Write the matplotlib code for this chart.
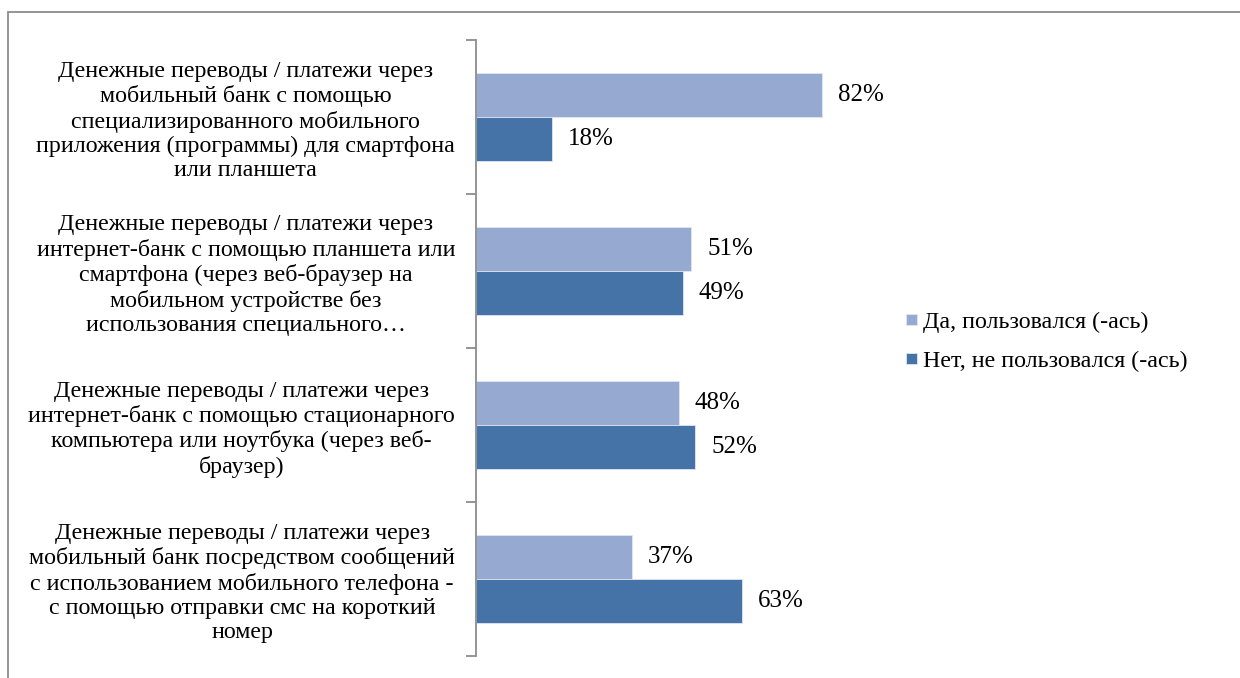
import numpy as np
import matplotlib
matplotlib.use('Agg')
import matplotlib.pyplot as plt
from matplotlib.patches import Rectangle

plt.rcParams['font.family'] = ['Liberation Serif', 'DejaVu Serif']

# Данные
categories = [
    'Денежные переводы / платежи через\nмобильный банк с помощью\nспециализированного мобильного\nприложения (программы) для смартфона\nили планшета',
    'Денежные переводы / платежи через\nинтернет-банк с помощью планшета или\nсмартфона (через веб-браузер на\nмобильном устройстве без\nиспользования специального…',
    'Денежные переводы / платежи через\nинтернет-банк с помощью стационарного\nкомпьютера или ноутбука (через веб-\nбраузер)',
    'Денежные переводы / платежи через\nмобильный банк посредством сообщений\nс использованием мобильного телефона -\nс помощью отправки смс на короткий\nномер',
]
yes_vals = [82, 51, 48, 37]
no_vals = [18, 49, 52, 63]
series_names = ['Да, пользовался (-ась)', 'Нет, не пользовался (-ась)']

c_yes = '#95A9D1'
c_no = '#4573A8'

W, H = 1240, 678
fig = plt.figure(figsize=(W / 100, H / 100), dpi=100)

# рамка вокруг диаграммы
fig.patches.append(Rectangle((8 / W, -0.1), 1.2, 1 - 12 / H + 0.1, transform=fig.transFigure,
                             fill=False, edgecolor='#8c8c8c', linewidth=1.3))

ax = fig.add_axes([476 / W, 1 - 656 / H, 422 / W, (656 - 40) / H])

y = np.arange(len(categories))
h = 0.286
b1 = ax.barh(y - h / 2, yes_vals, height=h, color=c_yes, edgecolor='#dfe6f2', linewidth=0.6,
             label=series_names[0])
b2 = ax.barh(y + h / 2, no_vals, height=h, color=c_no, edgecolor='#dfe6f2', linewidth=0.6,
             label=series_names[1])

for bars, vals in ((b1, yes_vals), (b2, no_vals)):
    for bar, v in zip(bars, vals):
        ax.annotate(f'{v}%', (bar.get_width(), bar.get_y() + bar.get_height() / 2),
                    xytext=(11.5, 0), textcoords='offset points', va='center', ha='left',
                    fontsize=18)

ax.set_xlim(0, 100)
ax.set_ylim(len(categories) - 0.5, -0.5)

for s in ('top', 'right', 'bottom'):
    ax.spines[s].set_visible(False)
ax.spines['left'].set_color('#8c8c8c')
ax.spines['left'].set_linewidth(1.3)
ax.set_xticks([])

ax.set_yticks(np.arange(len(categories) + 1) - 0.5)
ax.set_yticklabels([])
ax.tick_params(axis='y', which='major', length=7, width=1.3, color='#8c8c8c', direction='out')
ax.set_yticks(y, minor=True)
ax.set_yticklabels(categories, minor=True, fontsize=17.3, multialignment='center',
                   linespacing=1.2)
ax.tick_params(axis='y', which='minor', length=0, pad=15)

fig.legend(handles=[b1, b2], labels=series_names, loc='center left',
           bbox_to_anchor=(884 / W, 1 - 342 / H), frameon=False, fontsize=17.3,
           handlelength=0.46, handleheight=0.33, handletextpad=0.25, labelspacing=0.75)

fig.savefig('out.png', dpi=100)
